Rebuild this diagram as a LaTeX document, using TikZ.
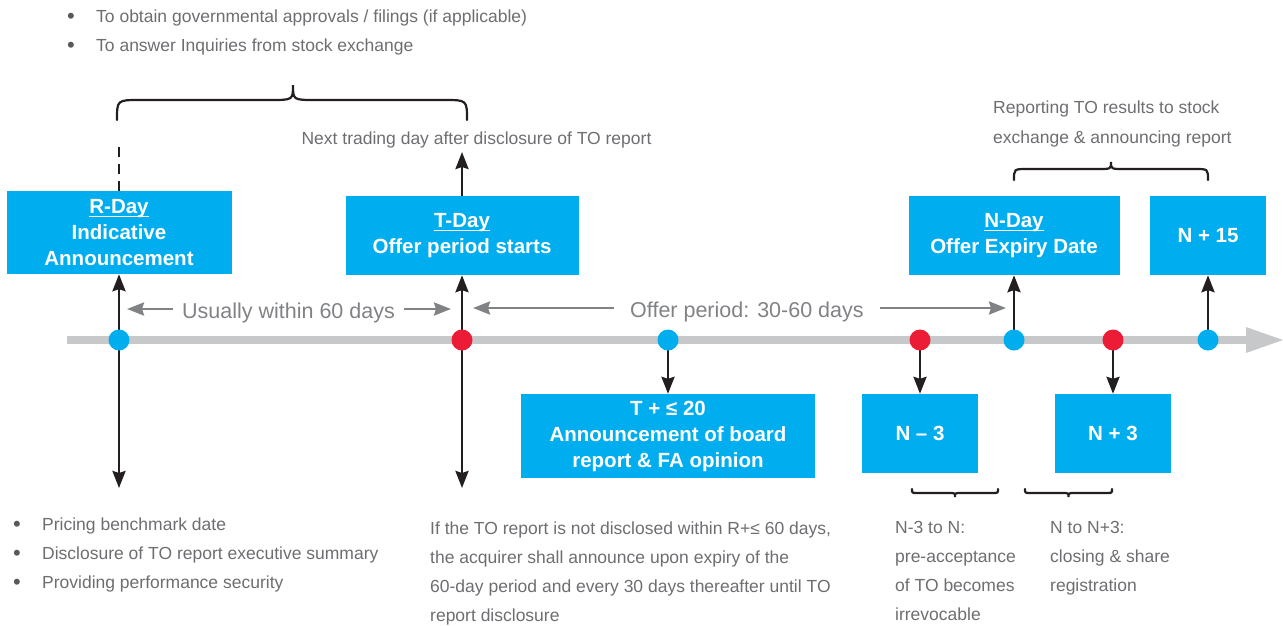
\documentclass[tikz,border=0pt]{standalone}
\usepackage{fontspec}
\setmainfont{Liberation Sans}
\usetikzlibrary{arrows.meta}

\definecolor{boxblue}{HTML}{00AEEF}
\definecolor{dotred}{HTML}{ED1C36}
\definecolor{tlgray}{HTML}{C7C8CA}
\definecolor{arrgray}{HTML}{808285}
\definecolor{txtgray}{HTML}{6D6E71}
\definecolor{bulgray}{HTML}{58595B}
\definecolor{ink}{HTML}{231F20}

\pgfdeclarelayer{back}
\pgfdeclarelayer{mid}
\pgfsetlayers{back,mid,main}

% underlined day label with a thin rule close to the baseline
\newcommand\dayline[1]{\setbox0\hbox{#1}\rlap{\rule[-3.6pt]{\wd0}{1.3pt}}\box0}
% bullet followed by a fixed indent
\newcommand\bul{\makebox[29pt][l]{\raisebox{-1pt}{\fontsize{22}{22}\selectfont\textcolor{bulgray}{•}}}}

\begin{document}
\begin{tikzpicture}[x=1pt,y=-1pt,
  box/.style={fill=boxblue, text=white, inner sep=0, align=center,
    font=\fontsize{20.5}{26}\selectfont\bfseries},
  dot/.style={circle, inner sep=0, minimum size=21},
  bluedot/.style={dot, fill=boxblue},
  reddot/.style={dot, fill=dotred},
  tip/.tip={Stealth[length=17,width=13,inset=2]},
  conn/.style={draw=ink, line width=2.6, -tip},
  twoway/.style={draw=ink, line width=2.6, tip-tip},
  span/.style={draw=arrgray, line width=2.8, -{Stealth[length=17,width=13,inset=2]}},
  spanlabel/.style={text=arrgray, inner sep=0, text height=18, text depth=0,
    font=\fontsize{21.5}{26}\selectfont},
  note/.style={text=txtgray, inner sep=0, font=\fontsize{17.5}{29}\selectfont},
  brace/.style={draw=ink, line width=2.2, line cap=round},
  guide/.style={draw=ink, line width=2.4, dash pattern=on 10 off 7}]

\useasboundingbox (0,0) rectangle (1283,625);

% ---- event boxes
\node[box, minimum width=225, minimum height=83] (rday) at (119,232.5)
  {\dayline{R-Day}\\Indicative\\Announcement};
\node[box, minimum width=233, minimum height=79] (tday) at (462,235.5)
  {\dayline{T-Day}\\Offer period starts};
\node[box, minimum width=294, minimum height=84] (t20) at (668,436)
  {T + ≤ 20\\Announcement of board\\report \& FA opinion};
\node[box, minimum width=116, minimum height=79] (nm3) at (920,433.5) {N – 3};
\node[box, minimum width=211, minimum height=79] (nday) at (1014,235.5)
  {\dayline{N-Day}\\Offer Expiry Date};
\node[box, minimum width=116, minimum height=79] (np3) at (1113,433.5) {N + 3};
\node[box, minimum width=116, minimum height=79] (np15) at (1208,235.5) {N + 15};

% ---- milestones on the time line
\node[bluedot] (rdot) at (119,340) {};
\node[reddot] (tdot) at (462,340) {};
\node[bluedot] (t20dot) at (668,340) {};
\node[reddot] (nm3dot) at (920,340) {};
\node[bluedot] (ndot) at (1014,340) {};
\node[reddot] (np3dot) at (1113,340) {};
\node[bluedot] (np15dot) at (1208,340) {};

\coordinate (rtop) at (119,146);
\coordinate (rfoot) at (119,488);
\coordinate (tup) at (462,152);
\coordinate (tfoot) at (462,488);

% ---- period labels
\node[spanlabel, anchor=base] (usual) at (288.5,318) {Usually within 60 days};
\node[spanlabel, anchor=base west] (offer) at (630,317) {Offer period: 30-60 days};

% ---- notes
\node[note, anchor=base west] (tasks) at (67,22)
  {\vtop{\hbox{\bul To obtain governmental approvals / filings (if applicable)}
         \hbox{\bul To answer Inquiries from stock exchange}}};
\node[note, anchor=base] (nexttd) at (476.5,144)
  {Next trading day after disclosure of TO report};
\node[note, anchor=base west] (reporting) at (993,113)
  {\vtop{\baselineskip=30pt\hbox{Reporting TO results to stock}
         \hbox{exchange \& announcing report}}};
\node[note, anchor=base west] (rnotes) at (13,530)
  {\vtop{\hbox{\bul Pricing benchmark date}
         \hbox{\bul Disclosure of TO report executive summary}
         \hbox{\bul Providing performance security}}};
\node[note, anchor=base west] (tnotes) at (430,534)
  {\vtop{\hbox{If the TO report is not disclosed within R+≤ 60 days,}
         \hbox{the acquirer shall announce upon expiry of the}
         \hbox{60-day period and every 30 days thereafter until TO}
         \hbox{report disclosure}}};
\node[note, anchor=base west] (prenote) at (895,533)
  {\vtop{\hbox{N-3 to N:}
         \hbox{pre-acceptance}
         \hbox{of TO becomes}
         \hbox{irrevocable}}};
\node[note, anchor=base west] (closenote) at (1050,533)
  {\vtop{\hbox{N to N+3:}
         \hbox{closing \& share}
         \hbox{registration}}};

% ---- time line
\begin{pgfonlayer}{back}
  \draw[tlgray, line width=8] (67,340) -- (1248,340);
  \fill[tlgray] (1246,327) -- (1283,340) -- (1246,353) -- cycle;
\end{pgfonlayer}

% ---- connectors
\begin{pgfonlayer}{mid}
  \draw[guide] (rday.north) -- (rtop);
  \draw[twoway] (rday.south) -- (rfoot);
  \draw[twoway] (tday.south) -- (tfoot);
  \draw[conn] (tday.north) -- (tup);
  \draw[conn] (t20dot.center) -- (t20.north);
  \draw[conn] (nm3dot.center) -- (nm3.north);
  \draw[conn] (ndot.center) -- (nday.south);
  \draw[conn] (np3dot.center) -- (np3.north);
  \draw[conn] (np15dot.center) -- (np15.south);
\end{pgfonlayer}

% ---- period arrows
\draw[span] ([xshift=-9]usual.west) -- ([xshift=8]usual.west -| rdot.center);
\draw[span] ([xshift=9]usual.east) -- ([xshift=-11]usual.east -| tdot.center);
\draw[span] ([xshift=-16]offer.west) -- ([xshift=11]offer.west -| tdot.center);
\draw[span] ([xshift=16]offer.east) -- ([xshift=-8]offer.east -| ndot.center);

% ---- braces
\draw[brace] (117,120) .. controls (117,100) .. (140,100) -- (270,100)
  .. controls (293,100) .. (293,85) .. controls (293,100) .. (316,100)
  -- (444,100) .. controls (467,100) .. (467,120);
\draw[brace] (1014,180) .. controls (1014,169) .. (1027,169) -- (1098,169)
  .. controls (1111,169) .. (1111,162) .. controls (1111,169) .. (1124,169)
  -- (1195,169) .. controls (1208,169) .. (1208,180);
\draw[brace] (912,489) .. controls (912,493) .. (918,493) -- (949,493)
  .. controls (955,493) .. (955,497) .. controls (955,493) .. (961,493)
  -- (992,493) .. controls (998,493) .. (998,489);
\draw[brace] (1025,489) .. controls (1025,493) .. (1031,493) -- (1062,493)
  .. controls (1068.5,493) .. (1068.5,497) .. controls (1068.5,493) .. (1075,493)
  -- (1106,493) .. controls (1112,493) .. (1112,489);
\end{tikzpicture}
\end{document}
